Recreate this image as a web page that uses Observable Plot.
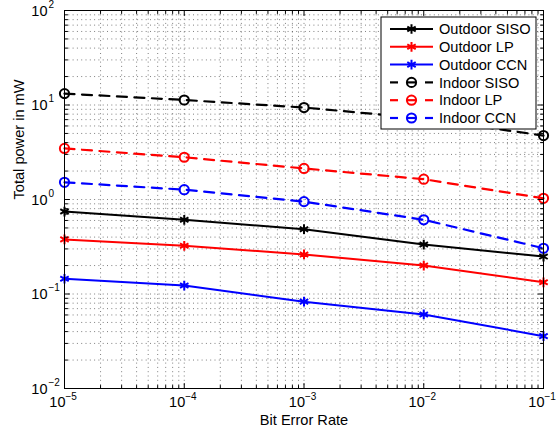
<!DOCTYPE html>
<html><head><meta charset="utf-8">
<script src="https://cdn.jsdelivr.net/npm/d3@7"></script>
<script src="https://cdn.jsdelivr.net/npm/@observablehq/plot@0.6"></script>
<style>
body{margin:0;background:#fff}
#chart{width:556px;height:439px}
</style>
</head><body><div id="chart"></div>
<script>
// ---- data ----
const ber = [1e-5, 1e-4, 1e-3, 1e-2, 1e-1];
const outdoorSISO = [0.746, 0.61, 0.485, 0.334, 0.249];
const outdoorLP   = [0.378, 0.324, 0.262, 0.200, 0.133];
const outdoorCCN  = [0.145, 0.123, 0.083, 0.0607, 0.0358];
const indoorSISO  = [13.2, 11.3, 9.4, 7.2, 4.75];
const indoorLP    = [3.47, 2.80, 2.13, 1.64, 1.03];
const indoorCCN   = [1.52, 1.27, 0.95, 0.61, 0.305];
const seriesNames = ["Outdoor SISO", "Outdoor LP", "Outdoor CCN", "Indoor SISO", "Indoor LP", "Indoor CCN"];
const seriesValues = [outdoorSISO, outdoorLP, outdoorCCN, indoorSISO, indoorLP, indoorCCN];
const seriesColors = ["#000000", "#ff0000", "#0000ff", "#000000", "#ff0000", "#0000ff"];
const seriesIndoor = [false, false, false, true, true, true];
const xTickExps = [-5, -4, -3, -2, -1];
const yTickExps = [-2, -1, 0, 1, 2];
const xLabel = "Bit Error Rate";
const yLabel = "Total power in mW";

// ---- build table ----
const rows = [];
seriesNames.forEach((name, i) => {
  seriesValues[i].forEach((v, j) => rows.push({name, ber: ber[j], power: v, color: seriesColors[i], indoor: seriesIndoor[i]}));
});
const outdoorRows = rows.filter(d => !d.indoor);
const indoorRows = rows.filter(d => d.indoor);

const xDomain = [10 ** xTickExps[0], 10 ** xTickExps[xTickExps.length - 1]];
const yDomain = [10 ** yTickExps[0], 10 ** yTickExps[yTickExps.length - 1]];
const xMajor = xTickExps.map(e => 10 ** e);
const yMajor = yTickExps.map(e => 10 ** e);
const xAll = d3.scaleLog().domain(xDomain).ticks();
const yAll = d3.scaleLog().domain(yDomain).ticks();
const xMinor = xAll.filter(v => !xMajor.some(m => Math.abs(m - v) / m < 1e-9));
const yMinor = yAll.filter(v => !yMajor.some(m => Math.abs(m - v) / m < 1e-9));

const tickShape = {draw(ctx, l) { ctx.moveTo(0, 0); ctx.lineTo(0, -l); }};
const expText = e => (e < 0 ? "\u2212" + (-e) : String(e));
const FONT = "'Liberation Sans', Arial, Helvetica, sans-serif";
const DASH = "10,7.5";

function ticks(data, ch, anchor, rotate, len) {
  const o = {frameAnchor: anchor, rotate, length: len, anchor: "start", shape: tickShape, stroke: "#000", strokeWidth: 1};
  o[ch] = d => d;
  return Plot.vector(data, o);
}

const gridStyle = {stroke: "#000", strokeOpacity: 0.5, strokeWidth: 1, strokeDasharray: "1,3.3"};

const chart = Plot.plot({
  width: 556,
  height: 439,
  marginLeft: 64,
  marginRight: 13,
  marginTop: 10,
  marginBottom: 51,
  style: {fontFamily: FONT, background: "#fff", color: "#000"},
  x: {type: "log", domain: xDomain, axis: null},
  y: {type: "log", domain: yDomain, axis: null},
  color: {type: "identity"},
  marks: [
    Plot.ruleX(xAll, {x: d => d, ...gridStyle}),
    Plot.ruleY(yAll, {y: d => d, ...gridStyle}),
    Plot.line(outdoorRows, {x: "ber", y: "power", z: "name", stroke: "color", strokeWidth: 2}),
    Plot.line(indoorRows, {x: "ber", y: "power", z: "name", stroke: "color", strokeWidth: 2.2, strokeDasharray: DASH}),
    Plot.dot(outdoorRows, {x: "ber", y: "power", stroke: "color", symbol: "asterisk", r: 4.6, strokeWidth: 2}),
    Plot.dot(indoorRows, {x: "ber", y: "power", stroke: "color", symbol: "circle", r: 4.6, strokeWidth: 2, fill: "none"}),
    Plot.frame({stroke: "#000", strokeWidth: 1}),
    ticks(xMajor, "x", "bottom", 0, 5),
    ticks(xMinor, "x", "bottom", 0, 3),
    ticks(xMajor, "x", "top", 180, 5),
    ticks(xMinor, "x", "top", 180, 3),
    ticks(yMajor, "y", "left", 90, 5),
    ticks(yMinor, "y", "left", 90, 3),
    ticks(yMajor, "y", "right", -90, 5),
    ticks(yMinor, "y", "right", -90, 3),
    Plot.text(xTickExps, {x: e => 10 ** e, text: () => "10", frameAnchor: "bottom", dy: 18.5, dx: 1, textAnchor: "end", fontSize: 14.5, fill: "#000"}),
    Plot.text(xTickExps, {x: e => 10 ** e, text: expText, frameAnchor: "bottom", dy: 11.5, dx: 1, textAnchor: "start", fontSize: 10, fill: "#000"}),
    Plot.text(yTickExps, {y: e => 10 ** e, text: () => "10", frameAnchor: "left", dx: -17, dy: 0.5, textAnchor: "end", fontSize: 14.5, fill: "#000"}),
    Plot.text(yTickExps, {y: e => 10 ** e, text: expText, frameAnchor: "left", dx: -16, dy: -6, textAnchor: "start", fontSize: 10, fill: "#000"}),
    Plot.text([xLabel], {text: d => d, frameAnchor: "bottom", dy: 36, fontSize: 14.6, fill: "#000"}),
    Plot.text([yLabel], {text: d => d, frameAnchor: "left", dx: -45, rotate: -90, fontSize: 14.6, fill: "#000"})
  ]
});

// ---- legend (inside plot, top-right) ----
const svg = d3.select(chart);
const lg = svg.append("g").attr("font-family", FONT).attr("font-size", 14.6).attr("text-anchor", "start");
const bx = 381, by = 17, bw = 155, bh = 112, step = 17.8, y0 = 29;
lg.append("rect").attr("x", bx).attr("y", by).attr("width", bw).attr("height", bh)
  .attr("fill", "#fff").attr("stroke", "#000").attr("stroke-width", 1);
seriesNames.forEach((name, i) => {
  const yy = y0 + i * step;
  const c = seriesColors[i];
  if (seriesIndoor[i]) {
    lg.append("line").attr("x1", 390).attr("x2", 398).attr("y1", yy).attr("y2", yy)
      .attr("stroke", c).attr("stroke-width", 2.2);
    lg.append("line").attr("x1", 425).attr("x2", 433).attr("y1", yy).attr("y2", yy)
      .attr("stroke", c).attr("stroke-width", 2.2);
    lg.append("line").attr("x1", 407).attr("x2", 416).attr("y1", yy).attr("y2", yy)
      .attr("stroke", c).attr("stroke-width", 2.2);
    lg.append("circle").attr("cx", 411.5).attr("cy", yy).attr("r", 4.6)
      .attr("fill", "none").attr("stroke", c).attr("stroke-width", 2);
  } else {
    lg.append("line").attr("x1", 390).attr("x2", 433).attr("y1", yy).attr("y2", yy)
      .attr("stroke", c).attr("stroke-width", 2);
    lg.append("path").attr("transform", `translate(411.5,${yy})`)
      .attr("d", d3.symbol(d3.symbolAsterisk, Math.PI * 4.6 * 4.6)())
      .attr("fill", "none").attr("stroke", c).attr("stroke-width", 2);
  }
  lg.append("text").attr("x", 439).attr("y", yy).attr("dy", "0.35em").attr("fill", "#000").text(name);
});

document.getElementById("chart").appendChild(chart);
</script>
</body></html>
